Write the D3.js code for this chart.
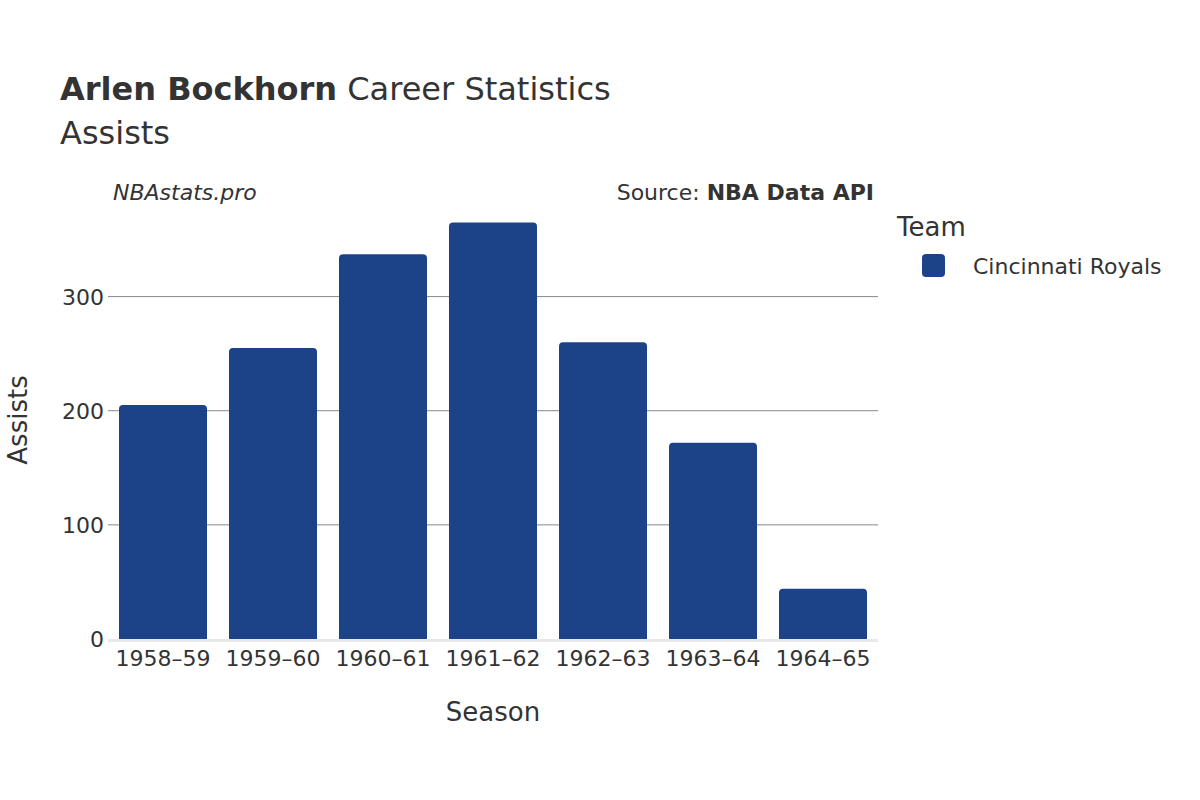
<!DOCTYPE html>
<html><head><meta charset="utf-8">
<script src="https://cdn.jsdelivr.net/npm/d3@7"></script>
<style>body{margin:0;background:#fff}text{font-family:"DejaVu Sans",sans-serif;fill:#333}</style>
</head><body><svg id="c" width="1200" height="800"></svg>
<script>
const seasons=["1958–59","1959–60","1960–61","1961–62","1962–63","1963–64","1964–65"];
const assists=[205,255,337,365,260,172,44];
const yTicks=[0,100,200,300];
const svg=d3.select("#c");
const x=d3.scaleBand().domain(seasons).range([108,878]).paddingInner(0.2).paddingOuter(0.1);
const y=d3.scaleLinear().domain([0,375]).range([639,211]);
svg.append("g").selectAll("line").data(yTicks.filter(d=>d>0)).join("line")
 .attr("x1",108).attr("x2",878).attr("y1",d=>y(d)).attr("y2",d=>y(d)).attr("stroke","#888").attr("stroke-width",1);
svg.append("line").attr("x1",108).attr("x2",878).attr("y1",y(0)+1.5).attr("y2",y(0)+1.5).attr("stroke","#e8e8e8").attr("stroke-width",3);
svg.append("g").selectAll("path").data(seasons).join("path").attr("fill","#1c4288")
 .attr("d",(s,i)=>{const x0=x(s),w=x.bandwidth(),y0=y(assists[i]),b=y(0),r=4;
  return `M${x0},${b}V${y0+r}Q${x0},${y0} ${x0+r},${y0}H${x0+w-r}Q${x0+w},${y0} ${x0+w},${y0+r}V${b}Z`;});
svg.append("g").selectAll("text").data(yTicks).join("text").attr("x",104).attr("y",d=>y(d)+8)
 .attr("text-anchor","end").attr("font-size",22).text(d=>d);
svg.append("g").selectAll("text").data(seasons).join("text").attr("x",s=>x(s)+x.bandwidth()/2).attr("y",666)
 .attr("text-anchor","middle").attr("font-size",22).text(s=>s);
svg.append("text").attr("x",493).attr("y",721).attr("text-anchor","middle").attr("font-size",26).text("Season");
svg.append("text").attr("transform","translate(27,420) rotate(-90)").attr("text-anchor","middle").attr("font-size",26).text("Assists");
const t=svg.append("text").attr("x",60).attr("y",100).attr("font-size",32);
t.append("tspan").attr("font-weight","bold").text("Arlen Bockhorn");
t.append("tspan").text(" Career Statistics");
svg.append("text").attr("x",60).attr("y",144).attr("font-size",32).text("Assists");
svg.append("text").attr("x",113).attr("y",200).attr("font-size",22).attr("font-style","italic").text("NBAstats.pro");
const s2=svg.append("text").attr("x",874).attr("y",200).attr("font-size",22).attr("text-anchor","end");
s2.append("tspan").text("Source: ");s2.append("tspan").attr("font-weight","bold").text("NBA Data API");
svg.append("text").attr("x",897).attr("y",236).attr("font-size",26).text("Team");
svg.append("rect").attr("x",922).attr("y",254).attr("width",23).attr("height",23).attr("rx",4).attr("fill","#1c4288");
svg.append("text").attr("x",973).attr("y",274).attr("font-size",22).text("Cincinnati Royals");
</script></body></html>
